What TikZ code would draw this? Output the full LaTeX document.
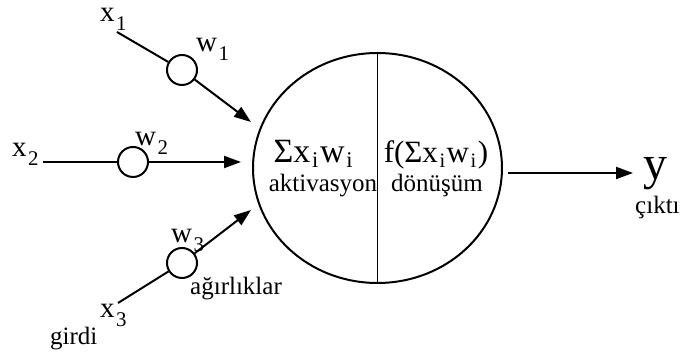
\documentclass[tikz,border=0pt]{standalone}
\usepackage{fontspec}
\setmainfont{Liberation Serif}
\usetikzlibrary{arrows.meta,shapes.geometric}
\newcommand\lowsub[1]{\kern0.05em\raisebox{-0.28em}{\scalebox{0.72}{#1}}\kern0.05em}
\newcommand\hisub[1]{\kern0.05em\raisebox{-0.14em}{\scalebox{0.66}{#1}}\kern0.05em}
\newcommand\fsz[1]{\fontsize{#1}{#1}\selectfont}
\begin{document}
\begin{tikzpicture}[x=1pt,y=-1pt,
  wire/.style={line width=2pt},
  arr/.style={line width=2pt,-{Triangle[length=17pt,width=12pt]}},
  weight/.style={circle,draw,line width=2pt,minimum size=30pt,inner sep=0pt},
  lbl/.style={inner sep=0pt,anchor=base west,font=\fsz{25}},
  sym/.style={inner sep=0pt,anchor=base west,font=\fsz{29}}]
\useasboundingbox[fill=white] (0,0) rectangle (681,352);
% neuron
\node[ellipse,draw,line width=2pt,minimum width=249pt,minimum height=230pt,inner sep=0pt] (n) at (377.5,168) {};
\draw[line width=1.6pt] (n.north) -- (n.south);
\node[sym,anchor=base,font=\fsz{34}] (sum) at (314,163) {Σx\hisub{i}w\hisub{i}};
\node[lbl,anchor=base] (akt) at (323,192) {aktivasyon};
\node[sym,anchor=base,font=\fsz{31}] (fsum) at (436,163) {f(Σx\hisub{i}w\hisub{i})};
\node[lbl,anchor=base] (don) at (437,192) {dönüşüm};
% inputs
\node[sym] (x1) at (100,22) {x\lowsub{1}};
\node[sym] (x2) at (12,157) {x\lowsub{2}};
\node[sym] (x3) at (100,318) {x\lowsub{3}};
\node[sym] (w1) at (196,52) {w\lowsub{1}};
\node[sym] (w2) at (135,146) {w\lowsub{2}};
\node[sym] (w3) at (171,243) {w\lowsub{3}};
\node[lbl] (agr) at (190,295) {ağırlıklar};
\node[lbl] (gir) at (50,345) {girdi};
\node[weight] (c1) at (182,70) {};
\node[weight] (c2) at (133,162) {};
\node[weight] (c3) at (182,263) {};
\coordinate (s1) at (117,32);
\coordinate (s2) at (43,162);
\coordinate (s3) at (118,303);
\coordinate (t1) at (251,122);
\coordinate (t2) at (241,162);
\coordinate (t3) at (251,210);
\draw[wire] (s1) -- (c1);
\draw[arr] (c1) -- (t1);
\draw[wire] (s2) -- (c2);
\draw[arr] (c2) -- (t2);
\draw[wire] (s3) -- (c3);
\draw[arr] (c3) -- (t3);
% output
\coordinate (o1) at (508,173);
\coordinate (o2) at (633,173);
\draw[arr] (o1) -- (o2);
\node[inner sep=0pt,anchor=base west,font=\fsz{48}] (y) at (643,180) {y};
\node[lbl] (cik) at (635,214) {çıktı};
\end{tikzpicture}
\end{document}
